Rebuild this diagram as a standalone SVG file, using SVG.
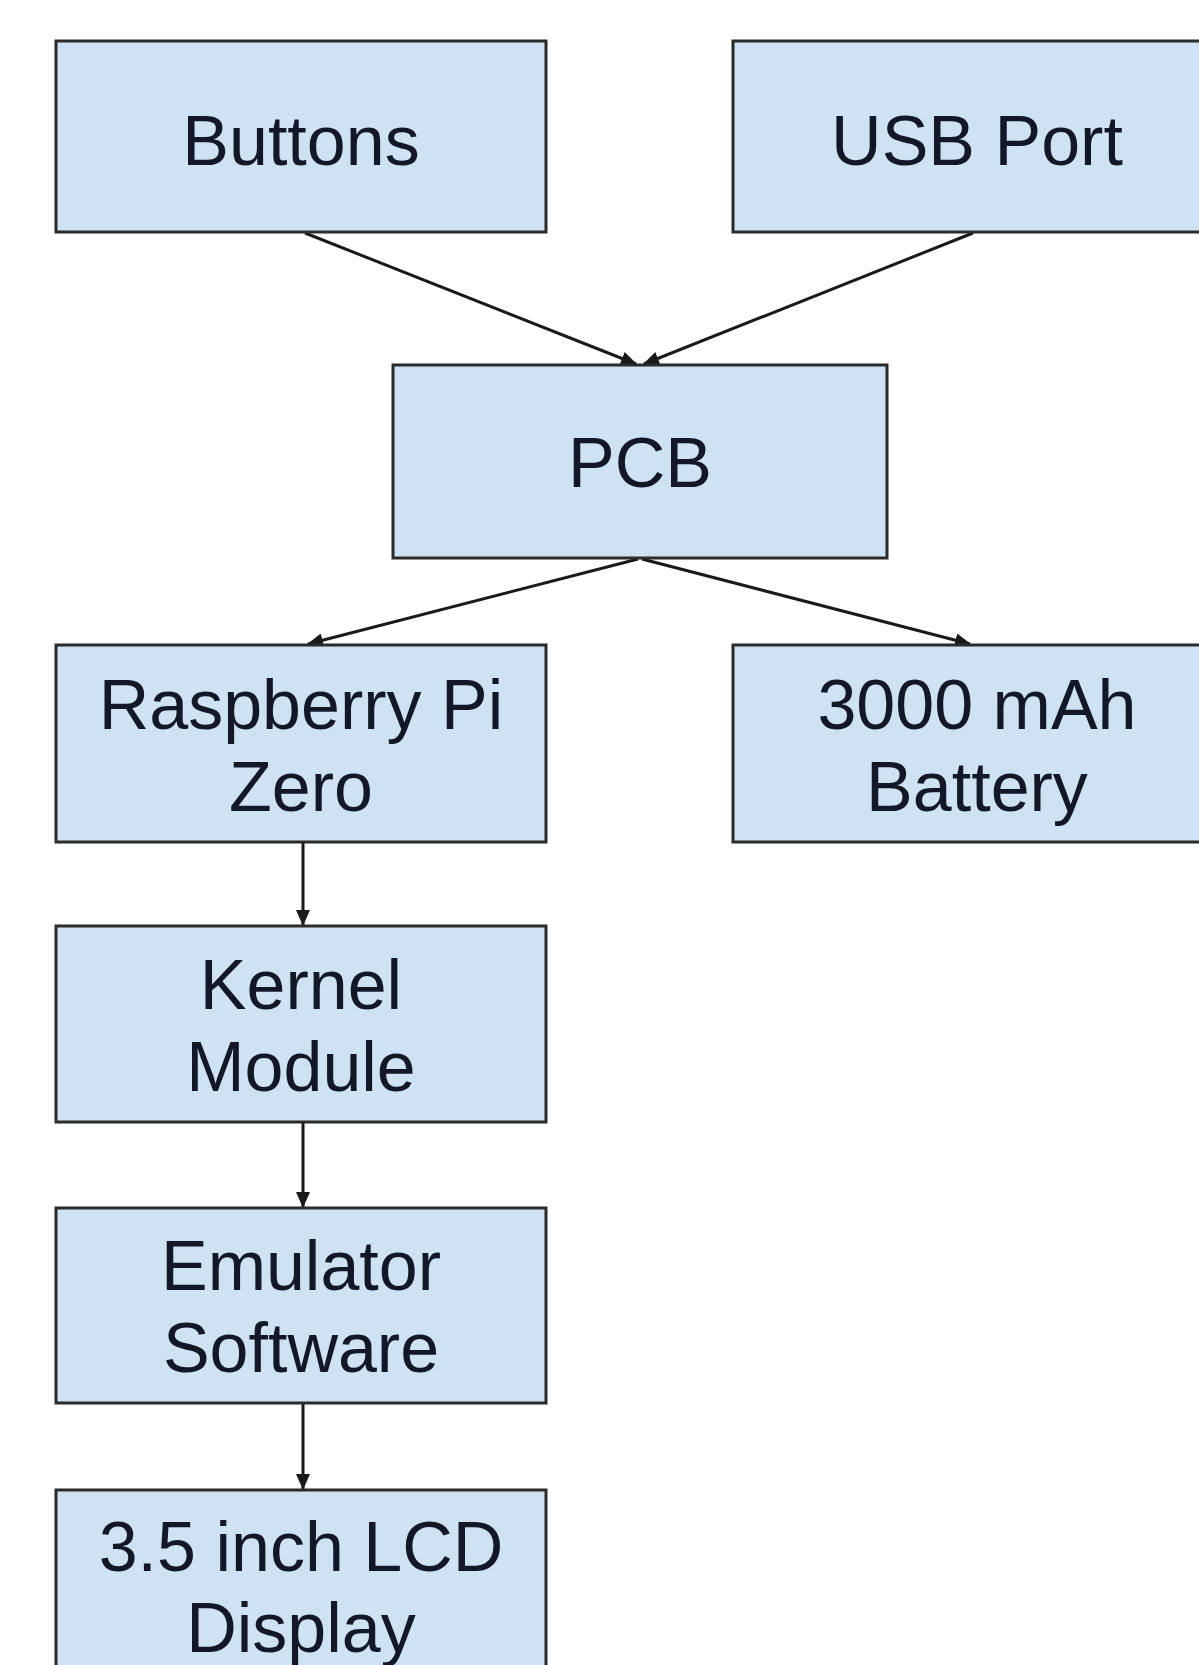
<svg xmlns="http://www.w3.org/2000/svg" width="1199" height="1665" viewBox="0 0 1199 1665">
<style>
.box{fill:#cfe2f3;stroke:#2b2b2b;stroke-width:3}
.t{font-family:"Liberation Sans",Arial,sans-serif;font-size:70px;fill:#121826;text-anchor:middle}
.c{stroke:#1a1a1a;stroke-width:3;fill:none;marker-end:url(#ah)}
</style>
<defs>
<marker id="ah" markerUnits="userSpaceOnUse" markerWidth="16" markerHeight="14" refX="15" refY="7" orient="auto">
<path d="M0,0 L16,7 L0,14 z" fill="#1a1a1a"/>
</marker>
</defs>
<rect width="1199" height="1665" fill="#fff"/>
<g id="connectors">
<line class="c" x1="305" y1="233" x2="636" y2="364"/>
<line class="c" x1="973" y1="233" x2="644" y2="364"/>
<line class="c" x1="638" y1="559" x2="308" y2="644"/>
<line class="c" x1="642" y1="559" x2="970" y2="644"/>
<line class="c" x1="303" y1="842" x2="303" y2="925"/>
<line class="c" x1="303" y1="1122" x2="303" y2="1207"/>
<line class="c" x1="303" y1="1403" x2="303" y2="1489"/>
</g>
<g id="buttons"><rect class="box" x="56" y="41" width="490" height="191"/><text class="t" x="301" y="165">Buttons</text></g>
<g id="usb"><rect class="box" x="733" y="41" width="490" height="191"/><text class="t" x="977" y="165">USB Port</text></g>
<g id="pcb"><rect class="box" x="393" y="365" width="494" height="193"/><text class="t" x="640" y="487">PCB</text></g>
<g id="rpi"><rect class="box" x="56" y="645" width="490" height="197"/><text class="t" x="301" y="729">Raspberry Pi</text><text class="t" x="301" y="811">Zero</text></g>
<g id="battery"><rect class="box" x="733" y="645" width="490" height="197"/><text class="t" x="977" y="729">3000 mAh</text><text class="t" x="977" y="811">Battery</text></g>
<g id="kernel"><rect class="box" x="56" y="926" width="490" height="196"/><text class="t" x="301" y="1009">Kernel</text><text class="t" x="301" y="1091">Module</text></g>
<g id="emulator"><rect class="box" x="56" y="1208" width="490" height="195"/><text class="t" x="301" y="1290">Emulator</text><text class="t" x="301" y="1372">Software</text></g>
<g id="lcd"><rect class="box" x="56" y="1490" width="490" height="200"/><text class="t" x="301" y="1571">3.5 inch LCD</text><text class="t" x="301" y="1652">Display</text></g>
</svg>
